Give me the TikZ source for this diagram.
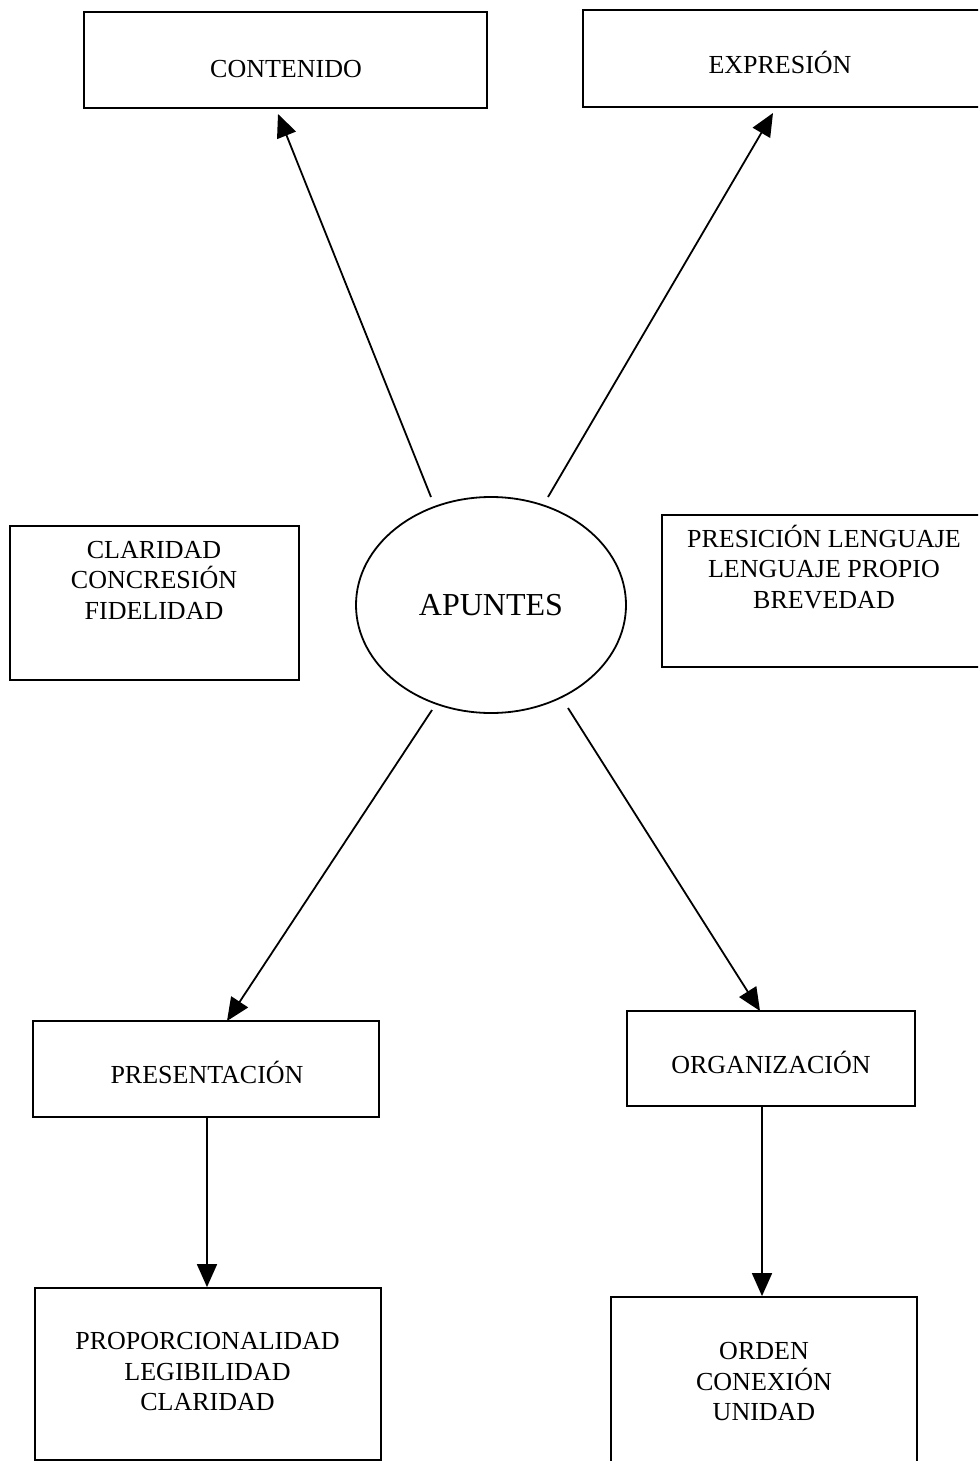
\documentclass[tikz,border=0pt]{standalone}
\usepackage{fontspec}
\setmainfont{Liberation Serif}
\usetikzlibrary{shapes.geometric,arrows.meta}
\begin{document}
\begin{tikzpicture}[x=1pt,y=-1pt,
  box/.style={draw, rectangle, line width=1.8pt, inner sep=0pt},
  lbl/.style={font=\fontsize{26}{30.5}\selectfont, align=center, inner sep=0pt},
  hub/.style={draw, ellipse, line width=1.8pt, inner sep=0pt,
              font=\fontsize{32}{36}\selectfont},
  link/.style={line width=1.8pt, -{Triangle[length=23pt,width=20pt]}}]
  \useasboundingbox (0,0) rectangle (978,1461);
  \clip (0,0) rectangle (978,1461);
  \fill[white] (0,0) rectangle (978,1461);

  % central ellipse
  \node[hub, minimum width=270pt, minimum height=216pt] (ap) at (491,605) {APUNTES};

  % frames
  \node[box, minimum width=403pt, minimum height=96pt]  (cont)  at (285.5,60) {};
  \node[box, minimum width=407pt, minimum height=97pt]  (expr)  at (786.5,58.5) {};
  \node[box, minimum width=289pt, minimum height=154pt] (lbox)  at (154.5,603) {};
  \node[box, minimum width=328pt, minimum height=152pt] (rbox)  at (826,591) {};
  \node[box, minimum width=346pt, minimum height=96pt]  (pres)  at (206,1069) {};
  \node[box, minimum width=288pt, minimum height=95pt]  (org)   at (771,1058.5) {};
  \node[box, minimum width=346pt, minimum height=172pt] (prop)  at (208,1374) {};
  \node[box, minimum width=306pt, minimum height=173pt] (orden) at (764,1383.5) {};

  % texts
  \node[lbl, anchor=base] (contT) at (286,78) {CONTENIDO};
  \node[lbl, anchor=base] (exprT) at (780,74) {EXPRESIÓN};
  \node[lbl] (lboxT) at (154,580) {CLARIDAD\\CONCRESIÓN\\FIDELIDAD};
  \node[lbl] (rboxT) at (824,567) {PRESICIÓN LENGUAJE\\LENGUAJE PROPIO\\BREVEDAD};
  \node[lbl, anchor=base] (presT) at (207,1083) {PRESENTACIÓN};
  \node[lbl, anchor=base] (orgT) at (771,1073) {ORGANIZACIÓN};
  \node[lbl] (propT) at (207.5,1372) {PROPORCIONALIDAD\\LEGIBILIDAD\\CLARIDAD};
  \node[lbl] (ordenT) at (764,1382) {ORDEN\\CONEXIÓN\\UNIDAD};

  % connector ends near the ellipse and at the frames
  \coordinate (s1) at (431,497);
  \coordinate (s2) at (548,497);
  \coordinate (s3) at (432,710);
  \coordinate (s4) at (568,708);
  \coordinate (t1) at (278,114);
  \coordinate (t2) at (773,113);
  \coordinate (t3) at (227,1021);
  \coordinate (t4) at (760,1011);

  \draw[link] (s1) -- (t1);
  \draw[link] (s2) -- (t2);
  \draw[link] (s3) -- (t3);
  \draw[link] (s4) -- (t4);
  \draw[link] ([xshift=1pt]pres.south) -- ([xshift=1pt]pres.south |- prop.north);
  \draw[link] ([xshift=-9pt]org.south) -- ([xshift=-9pt]org.south |- orden.north);
\end{tikzpicture}
\end{document}
